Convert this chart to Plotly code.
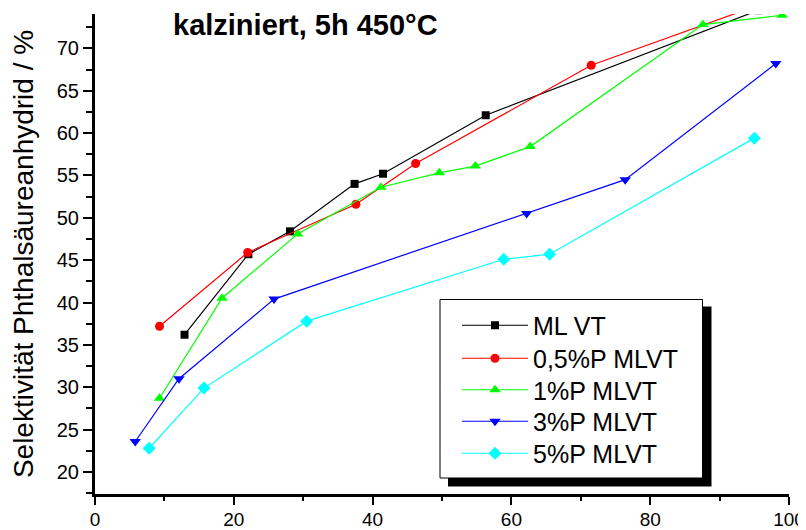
import plotly.graph_objects as go

# ---- data ----
series_names = ["ML VT", "0,5%P MLVT", "1%P MLVT", "3%P MLVT", "5%P MLVT"]

x_mlvt = [12.9, 22.1, 28.1, 37.4, 41.5, 56.3, 95.6]
y_mlvt = [36.2, 45.7, 48.4, 54.0, 55.2, 62.1, 74.5]

x_p05 = [9.3, 22.0, 37.6, 46.2, 71.5, 97.0]
y_p05 = [37.2, 45.9, 51.6, 56.4, 68.0, 75.5]

x_p1 = [9.3, 18.3, 29.2, 41.2, 49.6, 54.8, 62.7, 87.6, 99.0]
y_p1 = [28.7, 40.5, 48.1, 53.6, 55.3, 56.1, 58.4, 72.8, 73.9]

x_p3 = [5.8, 12.1, 25.8, 62.2, 76.4, 98.1]
y_p3 = [23.6, 31.0, 40.4, 50.5, 54.5, 68.2]

x_p5 = [7.8, 15.7, 30.5, 58.9, 65.5, 95.0]
y_p5 = [22.8, 29.9, 37.8, 45.1, 45.7, 59.4]

x_ticks = [0, 20, 40, 60, 80, 100]
y_ticks = [20, 25, 30, 35, 40, 45, 50, 55, 60, 65, 70]

title_text = "kalziniert, 5h 450°C"
y_title = "Selektivität Phthalsäureanhydrid / %"

# ---- styles ----
colors = ["#000000", "#FF0000", "#00FF00", "#0000FF", "#00FFFF"]
symbols = ["square", "circle", "triangle-up", "triangle-down", "diamond"]
msizes = [8, 9, 10, 10, 10]

FONT = "Liberation Sans, Arial, sans-serif"

# page is offset by the default 8px body margin
OFF = 8
PAGE_W, PAGE_H = 806, 530
W, H = PAGE_W - OFF, PAGE_H - OFF
PL, PT, PR, PB = 95, 14, 789, 494  # plot area in page pixels
L, T = PL - OFF, PT - OFF
R, B = PAGE_W - PR, PAGE_H - PB
pw, ph = PR - PL, PB - PT

def px2paper_x(px):
    return (px - PL) / pw

def px2paper_y(py):
    return (PB - py) / ph

legend_centers = [325, 358, 389.5, 421, 453]
legend_ids = ["legend", "legend2", "legend3", "legend4", "legend5"]

fig = go.Figure()
data = [(x_mlvt, y_mlvt), (x_p05, y_p05), (x_p1, y_p1), (x_p3, y_p3), (x_p5, y_p5)]
for (xs, ys), name, c, s, ms, lid in zip(data, series_names, colors, symbols, msizes, legend_ids):
    fig.add_trace(go.Scatter(
        x=xs, y=ys, name=name, mode="lines+markers",
        line=dict(color=c, width=1.2),
        marker=dict(symbol=s, size=ms, color=c, line=dict(width=0)),
        legend=lid,
    ))

# legend frame + shadow
fig.add_shape(type="rect", xref="paper", yref="paper",
              x0=px2paper_x(448), x1=px2paper_x(711.5),
              y0=px2paper_y(486.5), y1=px2paper_y(306.5),
              fillcolor="black", line=dict(width=0), layer="above")
fig.add_shape(type="rect", xref="paper", yref="paper",
              x0=px2paper_x(440), x1=px2paper_x(702.5),
              y0=px2paper_y(478), y1=px2paper_y(299.5),
              fillcolor="white", line=dict(color="black", width=1), layer="above")

fig.add_annotation(text=f"<b>{title_text}</b>", xref="paper", yref="paper",
                   x=px2paper_x(171), y=px2paper_y(25), xanchor="left", yanchor="middle",
                   showarrow=False, font=dict(family=FONT, size=29, color="black"))

legend_layout = {}
for lid, cy in zip(legend_ids, legend_centers):
    legend_layout[lid] = dict(
        x=px2paper_x(457), y=px2paper_y(cy - 22.5), xanchor="left", yanchor="top",
        bgcolor="rgba(0,0,0,0)", borderwidth=0,
        font=dict(family=FONT, size=25, color="black"),
        itemwidth=66,
    )

fig.update_layout(
    width=W, height=H,
    margin=dict(l=L, r=R, t=T, b=B, autoexpand=False),
    paper_bgcolor="white", plot_bgcolor="white",
    font=dict(family=FONT, color="black"),
    showlegend=True,
    xaxis=dict(range=[0, 100], tickvals=x_ticks, ticktext=[str(v) for v in x_ticks],
               showline=True, linecolor="black", linewidth=3,
               ticks="outside", ticklen=8, tickwidth=2, tickcolor="black",
               minor=dict(dtick=10, tick0=0, ticks="outside", ticklen=4, tickwidth=2, tickcolor="black"),
               showgrid=False, zeroline=False, ticklabelstandoff=-2,
               tickfont=dict(family=FONT, size=19, color="black")),
    yaxis=dict(range=[17.4, 74.05], tickvals=y_ticks, ticktext=[str(v) for v in y_ticks],
               showline=True, linecolor="black", linewidth=3,
               ticks="outside", ticklen=9, tickwidth=2, tickcolor="black",
               minor=dict(dtick=2.5, tick0=0, ticks="outside", ticklen=6, tickwidth=2, tickcolor="black"),
               showgrid=False, zeroline=False,
               tickfont=dict(family=FONT, size=20, color="black"),
               title=dict(text=y_title, font=dict(family=FONT, size=28, color="black"), standoff=16)),
    **legend_layout,
)

fig.write_html("out.html")
